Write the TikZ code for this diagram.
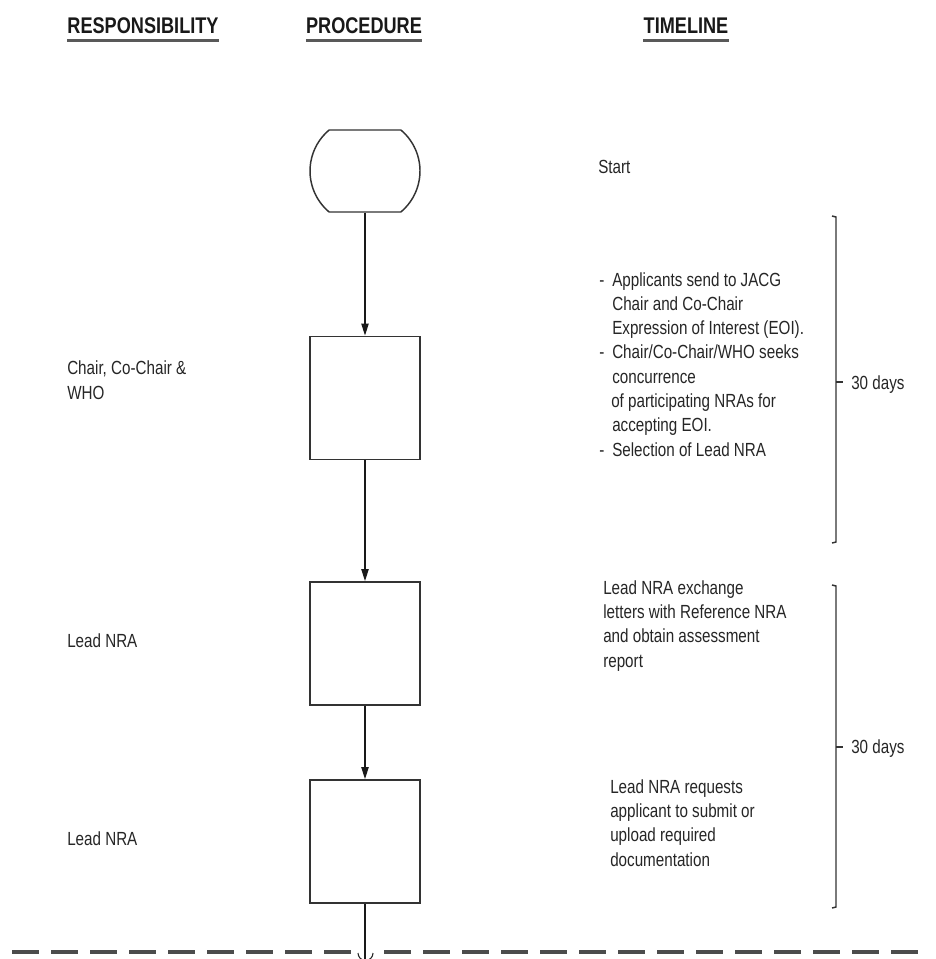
\documentclass[tikz,border=0pt]{standalone}
\usepackage{fontspec}
\setmainfont{Liberation Sans}[FakeStretch=0.8]
\usetikzlibrary{arrows.meta,shapes.misc}
\begin{document}
\begin{tikzpicture}[x=0.75pt,y=-0.75pt,
  hdr/.style={font=\fontsize{17}{20}\selectfont\bfseries, inner sep=0pt, anchor=base, text=black!90},
  txt/.style={font=\fontsize{14.25}{18.2}\selectfont, inner sep=0pt, anchor=base west, align=left, text=black!85},
  stepbox/.style={draw=black!80, line width=1.4pt, fill=white, minimum width=82.5pt, minimum height=92.25pt, inner sep=0pt},
  term/.style={draw=black!80, line width=1.1pt, fill=white, rounded rectangle, rounded rectangle arc length=100, minimum width=82.5pt, minimum height=61.5pt, inner sep=0pt},
  conn/.style={draw=black!90, line width=0.9pt, -{Triangle[length=9pt,width=5.5pt]}},
  uline/.style={draw=black!65, line width=2.2pt},
  brk/.style={draw=black!80, line width=1.1pt},
  sep/.style={draw=black!70, line width=2.4pt, dash pattern=on 20.25pt off 9pt}
]
\fill[white] (0,0) rectangle (935,959);
\useasboundingbox (0,0) rectangle (935,959);

% headers
\node[hdr] (h1) at (143,34) {RESPONSIBILITY};
\node[hdr] (h2) at (364,34) {PROCEDURE};
\node[hdr] (h3) at (686,34) {TIMELINE};
\foreach \h in {h1,h2,h3}
  \draw[uline] ([yshift=-4.5pt]\h.south west) -- ([yshift=-4.5pt]\h.south east);

% procedure
\node[term] (s) at (365,171) {};
\node[stepbox] (b1) at (365,398) {};
\node[stepbox] (b2) at (365,643.5) {};
\node[stepbox] (b3) at (365,841.5) {};
\coordinate (bot) at (365,959);

\draw[conn] (s) -- (b1);
\draw[conn] (b1) -- (b2);
\draw[conn] (b2) -- (b3);
\draw[draw=black!90, line width=0.9pt] (b3.south) -- (bot);

% responsibility (base = last line)
\node[txt] (r1) at (67,399) {Chair, Co-Chair \&\\WHO};
\node[txt] (r2) at (67,647) {Lead NRA};
\node[txt] (r3) at (67,845) {Lead NRA};

% timeline
\node[txt] (t0) at (598,174) {Start};
\node[txt] (t1) at (599,456) {\makebox[9.75pt][l]{-}Applicants send to JACG\\
\hspace*{9.75pt}Chair and Co-Chair\\
\hspace*{9.75pt}Expression of Interest (EOI).\\
\makebox[9.75pt][l]{-}Chair/Co-Chair/WHO seeks\\
\hspace*{9.75pt}concurrence\\
\hspace*{9pt}of participating NRAs for\\
\hspace*{9.75pt}accepting EOI.\\
\makebox[9.75pt][l]{-}Selection of Lead NRA};
\node[txt] (t2) at (603,667) {Lead NRA exchange\\letters with Reference NRA\\and obtain assessment\\report};
\node[txt] (t3) at (610,866) {Lead NRA requests\\applicant to submit or\\upload required\\documentation};

% brackets
\draw[brk] (832,216) -- (836,217) -- (836,542) -- (832,543);
\draw[brk] (836,382) -- (843,382);
\node[txt] (d1) at (851,389) {30 days};
\draw[brk] (832,585) -- (836,586) -- (836,907) -- (832,908);
\draw[brk] (836,747) -- (843,747);
\node[txt] (d2) at (851,753) {30 days};

% bottom separator
\draw[sep] (12,952) -- (355,952);
\draw[sep] (384,952) -- (925,952);
\draw[draw=black!85, line width=0.8pt] (358,953) arc[start angle=180,end angle=0,radius=7.5];
\end{tikzpicture}
\end{document}
